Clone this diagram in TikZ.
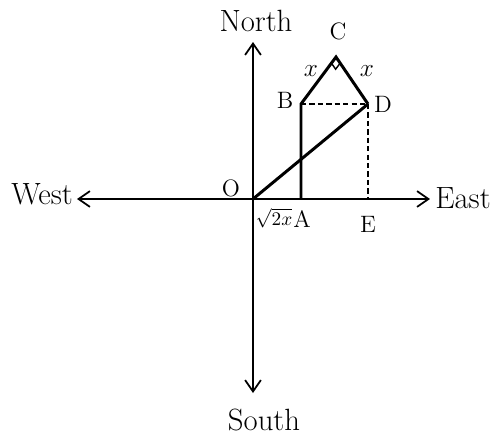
\documentclass[tikz,border=0pt]{standalone}
\usepackage{amsmath}
\usetikzlibrary{calc,arrows.meta}

\begin{document}
\begin{tikzpicture}[x=0.02cm,y=-0.02cm,
  >={Straight Barb[length=6.5pt,width=9pt,line width=1pt]},
  axis/.style={line width=1.1pt},
  side/.style={line width=1.7pt,line join=miter},
  guide/.style={line width=1.3pt,dash pattern=on 3pt off 1.8pt},
  word/.style={font=\fontsize{17.5}{20}\selectfont},
  pt/.style={font=\fontsize{13.5}{16}\selectfont}]
\useasboundingbox (0,0) rectangle (495,434);
% walk O -> A -> B -> C -> D, with E straight below D
\coordinate (O) at (253,199);
\coordinate (A) at (301,199);
\coordinate (B) at (301,104);
\coordinate (C) at (336,57);
\coordinate (D) at (368,104);
\coordinate (E) at (368,199);
% axis ends
\coordinate (Ntip) at (253,42);
\coordinate (Stip) at (253,393);
\coordinate (Wtip) at (77,199);
\coordinate (Etip) at (430,199);
\draw[axis,<->] (Stip) -- (Ntip);
\draw[axis,<->] (Wtip) -- (Etip);
\node[word] (north) at (256,21) {North};
\node[word] (south) at (264,420) {South};
\node[word] (west) at (42,194) {West};
\node[word] (east) at (463,198) {East};
% displacement and path
\draw[side] (O) -- (D);
\draw[side] (A) -- (B) -- (C) -- (D);
\draw[guide] (B) -- (D);
\draw[guide] (D) -- (E);
\draw[line width=0.8pt] ($(C)!.13!(B)$) -- ($($(C)!.13!(B)$)+($(C)!.13!(D)$)-(C)$) -- ($(C)!.13!(D)$);
% point labels
\node[pt] (lO) at (231,188) {O};
\node[pt] (lA) at (302,219) {A};
\node[pt] (lB) at (285,100) {B};
\node[pt] (lC) at (338,31) {C};
\node[pt] (lD) at (383,104) {D};
\node[pt] (lE) at (368,224) {E};
\node[font=\fontsize{11}{13}\selectfont] (lOA) at (274,218) {$\sqrt{2x}$};
\node[pt] (lBC) at (311,71) {$x$};
\node[pt] (lCD) at (367,71) {$x$};
\end{tikzpicture}
\end{document}
